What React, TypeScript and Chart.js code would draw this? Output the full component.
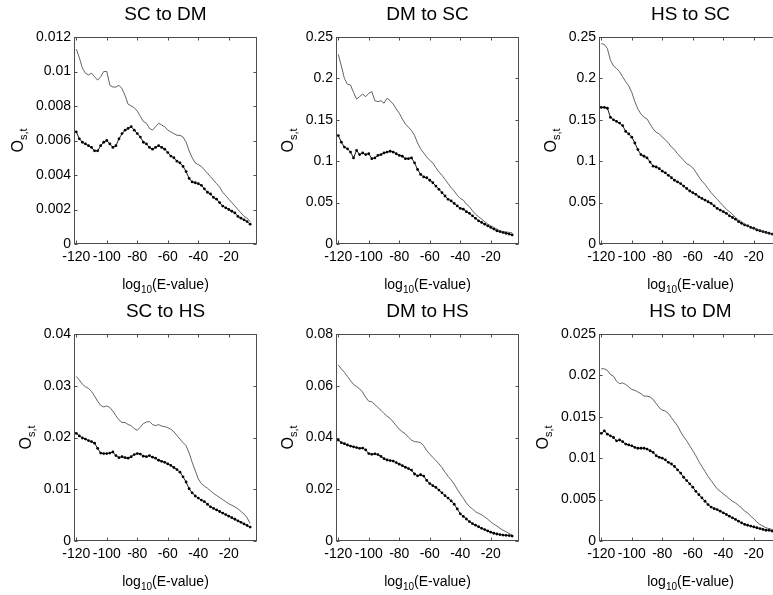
import React, { useEffect, useRef } from "react";
import { Chart, registerables } from "chart.js";

Chart.register(...registerables);

const FONT = "'Liberation Sans', Arial, Helvetica, sans-serif";

// log10(E-value) thresholds (x categories)
const logE = [
  -120, -118, -116, -114, -112, -110, -108, -106, -104, -102,
  -100, -98, -96, -94, -92, -90, -88, -86, -84, -82,
  -80, -78, -76, -74, -72, -70, -68, -66, -64, -62,
  -60, -58, -56, -54, -52, -50, -48, -46, -44, -42,
  -40, -38, -36, -34, -32, -30, -28, -26, -24, -22,
  -20, -18, -16, -14, -12, -10, -8, -6,
];

const xTickValues = [-120, -100, -80, -60, -40, -20];

// SC to DM
const scToDmUpper = [
  0.0113, 0.0108, 0.0102, 0.0099, 0.0098, 0.0099, 0.0097, 0.0095, 0.0097, 0.0100,
  0.0100, 0.0092, 0.0091, 0.0091, 0.0092, 0.0090, 0.0086, 0.0081, 0.0080, 0.0079,
  0.0077, 0.0074, 0.0071, 0.0070, 0.0067, 0.0066, 0.0068, 0.0070, 0.0069, 0.0068,
  0.0066, 0.0065, 0.0064, 0.0063, 0.0063, 0.0062, 0.0059, 0.0054, 0.0050, 0.0047,
  0.0046, 0.0045, 0.0043, 0.0041, 0.0039, 0.0037, 0.0035, 0.0033, 0.0030, 0.0028,
  0.0026, 0.0024, 0.0022, 0.0020, 0.0018, 0.0016, 0.0015, 0.0013,
];
const scToDmLower = [
  0.0065, 0.0061, 0.0059, 0.0058, 0.0057, 0.0056, 0.0054, 0.0054, 0.0057, 0.0059,
  0.0060, 0.0058, 0.0056, 0.0057, 0.0061, 0.0064, 0.0066, 0.0067, 0.0068, 0.0066,
  0.0064, 0.0062, 0.0059, 0.0058, 0.0056, 0.0055, 0.0056, 0.0057, 0.0056, 0.0055,
  0.0053, 0.0051, 0.0050, 0.0048, 0.0047, 0.0045, 0.0042, 0.0038, 0.0036, 0.00355,
  0.0035, 0.0034, 0.0032, 0.0030, 0.0029, 0.0027, 0.0026, 0.0024, 0.0022, 0.0021,
  0.0020, 0.0019, 0.0018, 0.0016, 0.0015, 0.0014, 0.0013, 0.00115,
];
const scToDmTicks = [0, 0.002, 0.004, 0.006, 0.008, 0.01, 0.012];

// DM to SC
const dmToScUpper = [
  0.229, 0.215, 0.200, 0.193, 0.192, 0.183, 0.175, 0.178, 0.181, 0.178,
  0.182, 0.184, 0.173, 0.172, 0.173, 0.170, 0.176, 0.173, 0.169, 0.163,
  0.158, 0.151, 0.145, 0.141, 0.137, 0.131, 0.122, 0.115, 0.110, 0.105,
  0.101, 0.098, 0.092, 0.087, 0.083, 0.078, 0.073, 0.068, 0.064, 0.059,
  0.055, 0.053, 0.048, 0.045, 0.040, 0.036, 0.033, 0.030, 0.027, 0.024,
  0.022, 0.020, 0.018, 0.016, 0.015, 0.0145, 0.014, 0.0135,
];
const dmToScLower = [
  0.131, 0.123, 0.117, 0.115, 0.111, 0.104, 0.113, 0.108, 0.110, 0.108,
  0.109, 0.103, 0.104, 0.107, 0.108, 0.110, 0.111, 0.112, 0.111, 0.109,
  0.107, 0.106, 0.103, 0.103, 0.104, 0.098, 0.090, 0.084, 0.081, 0.080,
  0.077, 0.074, 0.070, 0.066, 0.062, 0.058, 0.054, 0.052, 0.049, 0.046,
  0.043, 0.042, 0.039, 0.037, 0.034, 0.031, 0.028, 0.026, 0.024, 0.022,
  0.020, 0.018, 0.016, 0.015, 0.014, 0.013, 0.012, 0.011,
];
const dmToScTicks = [0, 0.05, 0.1, 0.15, 0.2, 0.25];

// HS to SC
const hsToScUpper = [
  0.242, 0.241, 0.236, 0.222, 0.215, 0.212, 0.208, 0.202, 0.196, 0.191,
  0.183, 0.172, 0.163, 0.157, 0.153, 0.151, 0.145, 0.139, 0.135, 0.133,
  0.129, 0.126, 0.122, 0.117, 0.114, 0.109, 0.105, 0.101, 0.097, 0.095,
  0.092, 0.087, 0.081, 0.076, 0.072, 0.067, 0.062, 0.058, 0.054, 0.050,
  0.046, 0.042, 0.039, 0.036, 0.032, 0.029, 0.027, 0.024, 0.022, 0.021,
  0.019, 0.018, 0.016, 0.015, 0.014, 0.013, 0.012, 0.0115,
];
const hsToScLower = [
  0.165, 0.165, 0.164, 0.153, 0.150, 0.148, 0.146, 0.143, 0.136, 0.133,
  0.129, 0.122, 0.114, 0.108, 0.106, 0.104, 0.099, 0.094, 0.093, 0.091,
  0.088, 0.086, 0.083, 0.080, 0.077, 0.075, 0.073, 0.070, 0.067, 0.064,
  0.062, 0.060, 0.057, 0.055, 0.053, 0.051, 0.049, 0.046, 0.043, 0.041,
  0.039, 0.037, 0.034, 0.032, 0.030, 0.027, 0.025, 0.023, 0.022, 0.020,
  0.019, 0.017, 0.016, 0.015, 0.014, 0.013, 0.012, 0.011,
];
const hsToScTicks = [0, 0.05, 0.1, 0.15, 0.2, 0.25];

// SC to HS
const scToHsUpper = [
  0.0318, 0.0311, 0.0303, 0.0298, 0.0295, 0.0289, 0.0280, 0.0270, 0.0262, 0.0259,
  0.0261, 0.0258, 0.0251, 0.0242, 0.0234, 0.0229, 0.0229, 0.0225, 0.0223, 0.0217,
  0.0214, 0.0220, 0.0227, 0.0230, 0.0231, 0.0225, 0.0223, 0.0225, 0.0222, 0.0221,
  0.0219, 0.0216, 0.0211, 0.0204, 0.0197, 0.0190, 0.0184, 0.0170, 0.0152, 0.0136,
  0.0120, 0.0111, 0.0106, 0.0102, 0.0097, 0.0092, 0.0088, 0.0084, 0.0080, 0.0076,
  0.0072, 0.0069, 0.0066, 0.0062, 0.0057, 0.0052, 0.0045, 0.0034,
];
const scToHsLower = [
  0.0208, 0.0203, 0.0199, 0.0197, 0.0194, 0.0192, 0.0189, 0.0179, 0.0170, 0.0169,
  0.0169, 0.0170, 0.0172, 0.0165, 0.0161, 0.0163, 0.0161, 0.0160, 0.0163, 0.0167,
  0.0169, 0.0168, 0.0164, 0.0163, 0.0165, 0.0162, 0.0160, 0.0156, 0.0154, 0.0152,
  0.0149, 0.0146, 0.0142, 0.0138, 0.0133, 0.0124, 0.0114, 0.0101, 0.0093, 0.0087,
  0.0083, 0.0079, 0.0076, 0.0071, 0.0066, 0.0063, 0.0060, 0.0057, 0.0054, 0.0051,
  0.0048, 0.0045, 0.0042, 0.0039, 0.0036, 0.0033, 0.0030, 0.0027,
];
const scToHsTicks = [0, 0.01, 0.02, 0.03, 0.04];

// DM to HS
const dmToHsUpper = [
  0.0680, 0.0665, 0.0652, 0.0636, 0.0620, 0.0605, 0.0597, 0.0588, 0.0575, 0.0555,
  0.0540, 0.0538, 0.0527, 0.0516, 0.0505, 0.0493, 0.0482, 0.0474, 0.0460, 0.0446,
  0.0432, 0.0422, 0.0414, 0.0401, 0.0390, 0.0384, 0.0383, 0.0380, 0.0368, 0.0349,
  0.0336, 0.0323, 0.0311, 0.0298, 0.0284, 0.0266, 0.0250, 0.0236, 0.0220, 0.0200,
  0.0182, 0.0165, 0.0147, 0.0133, 0.0124, 0.0113, 0.0107, 0.0101, 0.0093, 0.0084,
  0.0074, 0.0065, 0.0058, 0.0049, 0.0042, 0.0036, 0.0029, 0.0024,
];
const dmToHsLower = [
  0.0390, 0.0380, 0.0376, 0.0371, 0.0367, 0.0364, 0.0361, 0.0358, 0.0359, 0.0352,
  0.0338, 0.0335, 0.0337, 0.0334, 0.0327, 0.0318, 0.0313, 0.0311, 0.0309, 0.0303,
  0.0297, 0.0291, 0.0285, 0.0280, 0.0274, 0.0259, 0.0252, 0.0256, 0.0251, 0.0234,
  0.0222, 0.0214, 0.0207, 0.0197, 0.0186, 0.0175, 0.0166, 0.0155, 0.0142, 0.0124,
  0.0105, 0.0095, 0.0085, 0.0075, 0.0067, 0.0061, 0.0055, 0.0049, 0.0044, 0.0039,
  0.0034, 0.0030, 0.0027, 0.0025, 0.0023, 0.0022, 0.0021, 0.0019,
];
const dmToHsTicks = [0, 0.02, 0.04, 0.06, 0.08];

// HS to DM
const hsToDmUpper = [
  0.0208, 0.0208, 0.0206, 0.0201, 0.0199, 0.0193, 0.0190, 0.0191, 0.0189, 0.0186,
  0.0183, 0.0182, 0.0180, 0.0178, 0.0175, 0.0175, 0.0174, 0.0171, 0.0166, 0.0161,
  0.0158, 0.0157, 0.0154, 0.0149, 0.0144, 0.0139, 0.0132, 0.0126, 0.0121, 0.0115,
  0.0109, 0.0103, 0.0096, 0.0090, 0.0084, 0.0078, 0.0073, 0.0068, 0.0063, 0.0060,
  0.0057, 0.0054, 0.0051, 0.0048, 0.0046, 0.0043, 0.0040, 0.0036, 0.0034, 0.0030,
  0.0027, 0.0023, 0.0020, 0.0018, 0.0016, 0.0015, 0.0014, 0.0013,
];
const hsToDmLower = [
  0.0130, 0.0133, 0.0129, 0.0127, 0.0125, 0.0121, 0.0122, 0.0120, 0.0117, 0.0116,
  0.0115, 0.0113, 0.0112, 0.0112, 0.0112, 0.0111, 0.0109, 0.0107, 0.0103, 0.0101,
  0.0100, 0.0098, 0.0095, 0.0093, 0.0090, 0.0086, 0.0082, 0.0077, 0.0073, 0.0069,
  0.0065, 0.0060, 0.0056, 0.0052, 0.0048, 0.0044, 0.0041, 0.0039, 0.0038, 0.0036,
  0.0034, 0.0032, 0.0030, 0.0028, 0.0026, 0.0024, 0.0022, 0.0020, 0.0019, 0.0018,
  0.0017, 0.0016, 0.0015, 0.0014, 0.0013, 0.0013, 0.0012, 0.0012,
];
const hsToDmTicks = [0, 0.005, 0.01, 0.015, 0.02, 0.025];

type PanelDef = {
  title: string;
  upper: number[];
  lower: number[];
  yTicks: number[];
  col: number;
  row: number;
};

const panels: PanelDef[] = [
  { title: "SC to DM", upper: scToDmUpper, lower: scToDmLower, yTicks: scToDmTicks, col: 0, row: 0 },
  { title: "DM to SC", upper: dmToScUpper, lower: dmToScLower, yTicks: dmToScTicks, col: 1, row: 0 },
  { title: "HS to SC", upper: hsToScUpper, lower: hsToScLower, yTicks: hsToScTicks, col: 2, row: 0 },
  { title: "SC to HS", upper: scToHsUpper, lower: scToHsLower, yTicks: scToHsTicks, col: 0, row: 1 },
  { title: "DM to HS", upper: dmToHsUpper, lower: dmToHsLower, yTicks: dmToHsTicks, col: 1, row: 1 },
  { title: "HS to DM", upper: hsToDmUpper, lower: hsToDmLower, yTicks: hsToDmTicks, col: 2, row: 1 },
];

// layout (canvas per panel)
const CANVAS_W = 262;
const CANVAS_H = 297;
const COL_X = [0, 262, 525];
const ROW_Y = [0, 297];
const AREA_LEFT = 74;
const AREA_TOP = 37;
const AREA_W = 183;
const AREA_H = 207;
const TICK_SIZE = 14;

function decorPlugin(title: string, yTicks: number[]) {
  return {
    id: "matlabDecor",
    afterDatasetsDraw(chart: any) {
      const { ctx, chartArea: a, scales } = chart;
      const L = Math.round(a.left) + 0.5;
      const R = Math.round(a.right) - 0.5;
      const T = Math.round(a.top) + 0.5;
      const B = Math.round(a.bottom) - 0.5;
      ctx.save();
      // box + inward ticks
      ctx.strokeStyle = "#4d4d4d";
      ctx.lineWidth = 1;
      ctx.strokeRect(L, T, R - L, B - T);
      ctx.beginPath();
      const tl = 3;
      for (const v of xTickValues) {
        const px = Math.round(scales.x.getPixelForValue(v)) + 0.5;
        ctx.moveTo(px, B);
        ctx.lineTo(px, B - tl);
        ctx.moveTo(px, T);
        ctx.lineTo(px, T + tl);
      }
      for (const v of yTicks) {
        const py = Math.round(scales.y.getPixelForValue(v)) + 0.5;
        ctx.moveTo(L, py);
        ctx.lineTo(L + tl, py);
        ctx.moveTo(R, py);
        ctx.lineTo(R - tl, py);
      }
      ctx.stroke();

      ctx.fillStyle = "#000";
      const cx = (a.left + a.right) / 2;
      // title
      ctx.font = `19px ${FONT}`;
      ctx.textAlign = "center";
      ctx.textBaseline = "middle";
      ctx.fillText(title, cx, a.top - 22);

      // x label: log_10(E-value)
      ctx.textBaseline = "alphabetic";
      ctx.textAlign = "left";
      const mainF = `14px ${FONT}`;
      const subF = `10px ${FONT}`;
      ctx.font = mainF;
      const w1 = ctx.measureText("log").width;
      const w3 = ctx.measureText("(E-value)").width;
      ctx.font = subF;
      const w2 = ctx.measureText("10").width;
      const x0 = cx - (w1 + w2 + w3) / 2;
      const by = a.bottom + 45;
      ctx.font = mainF;
      ctx.fillText("log", x0, by);
      ctx.font = subF;
      ctx.fillText("10", x0 + w1, by + 4);
      ctx.font = mainF;
      ctx.fillText("(E-value)", x0 + w1 + w2, by);

      // y label: O_{s,t}
      ctx.font = `${TICK_SIZE}px ${FONT}`;
      let maxW = 0;
      for (const v of yTicks) maxW = Math.max(maxW, ctx.measureText(String(v)).width);
      const baseX = a.left - 3 - maxW - 13;
      const cy = (a.top + a.bottom) / 2;
      ctx.translate(baseX, cy);
      ctx.rotate(-Math.PI / 2);
      const oF = `16px ${FONT}`;
      const sF = `11px ${FONT}`;
      ctx.font = oF;
      const wo = ctx.measureText("O").width;
      ctx.font = sF;
      const ws = ctx.measureText("s,t").width;
      const sx = -(wo + ws) / 2;
      ctx.font = oF;
      ctx.fillText("O", sx, 0);
      ctx.font = sF;
      ctx.fillText("s,t", sx + wo, 4);
      ctx.restore();
    },
  };
}

function Panel({ def }: { def: PanelDef }) {
  const ref = useRef<HTMLCanvasElement>(null);
  useEffect(() => {
    const canvas = ref.current;
    if (!canvas) return;
    const yMax = def.yTicks[def.yTicks.length - 1];
    const tickFont = { family: FONT, size: TICK_SIZE };
    const chart = new Chart(canvas, {
      type: "line",
      data: {
        datasets: [
          {
            data: logE.map((x, i) => ({ x, y: def.upper[i] })),
            borderColor: "#3c3c3c",
            borderWidth: 0.8,
            pointRadius: 0,
            tension: 0,
            fill: false,
          },
          {
            data: logE.map((x, i) => ({ x, y: def.lower[i] })),
            borderColor: "#000",
            borderWidth: 0.9,
            pointRadius: 1.4,
            pointBackgroundColor: "#000",
            pointBorderColor: "#000",
            pointBorderWidth: 0,
            tension: 0,
            fill: false,
          },
        ],
      },
      options: {
        animation: false,
        responsive: false,
        maintainAspectRatio: false,
        devicePixelRatio: 1,
        events: [],
        layout: {
          padding: {
            top: AREA_TOP,
            left: 0,
            right: CANVAS_W - AREA_LEFT - AREA_W,
            bottom: 0,
          },
        },
        plugins: {
          legend: { display: false },
          tooltip: { enabled: false },
          title: { display: false },
        },
        scales: {
          x: {
            type: "linear",
            min: -121.5,
            max: -1.5,
            afterFit: (s: any) => {
              s.height = CANVAS_H - AREA_TOP - AREA_H;
            },
            afterBuildTicks: (s: any) => {
              s.ticks = xTickValues.map((v) => ({ value: v }));
            },
            grid: { display: false, drawTicks: false },
            border: { display: false },
            ticks: {
              padding: 5,
              color: "#000",
              font: tickFont,
              maxRotation: 0,
              minRotation: 0,
              autoSkip: false,
              callback: (v: any) => String(v),
            },
          },
          y: {
            type: "linear",
            min: 0,
            max: yMax,
            afterFit: (s: any) => {
              s.width = AREA_LEFT;
            },
            afterBuildTicks: (s: any) => {
              s.ticks = def.yTicks.map((v) => ({ value: v }));
            },
            grid: { display: false, drawTicks: false },
            border: { display: false },
            ticks: {
              padding: 3,
              color: "#000",
              font: tickFont,
              autoSkip: false,
              callback: (v: any) => String(v),
            },
          },
        },
      },
      plugins: [decorPlugin(def.title, def.yTicks)],
    } as any);
    return () => chart.destroy();
  }, [def]);
  return (
    <canvas
      ref={ref}
      width={CANVAS_W}
      height={CANVAS_H}
      style={{
        position: "absolute",
        left: COL_X[def.col],
        top: ROW_Y[def.row],
        width: CANVAS_W,
        height: CANVAS_H,
      }}
    />
  );
}

export default function App() {
  return (
    <div
      style={{
        position: "fixed",
        left: 0,
        top: 0,
        width: 773,
        height: 595,
        overflow: "hidden",
        background: "#fff",
      }}
    >
      {panels.map((p) => (
        <Panel key={p.title} def={p} />
      ))}
    </div>
  );
}
